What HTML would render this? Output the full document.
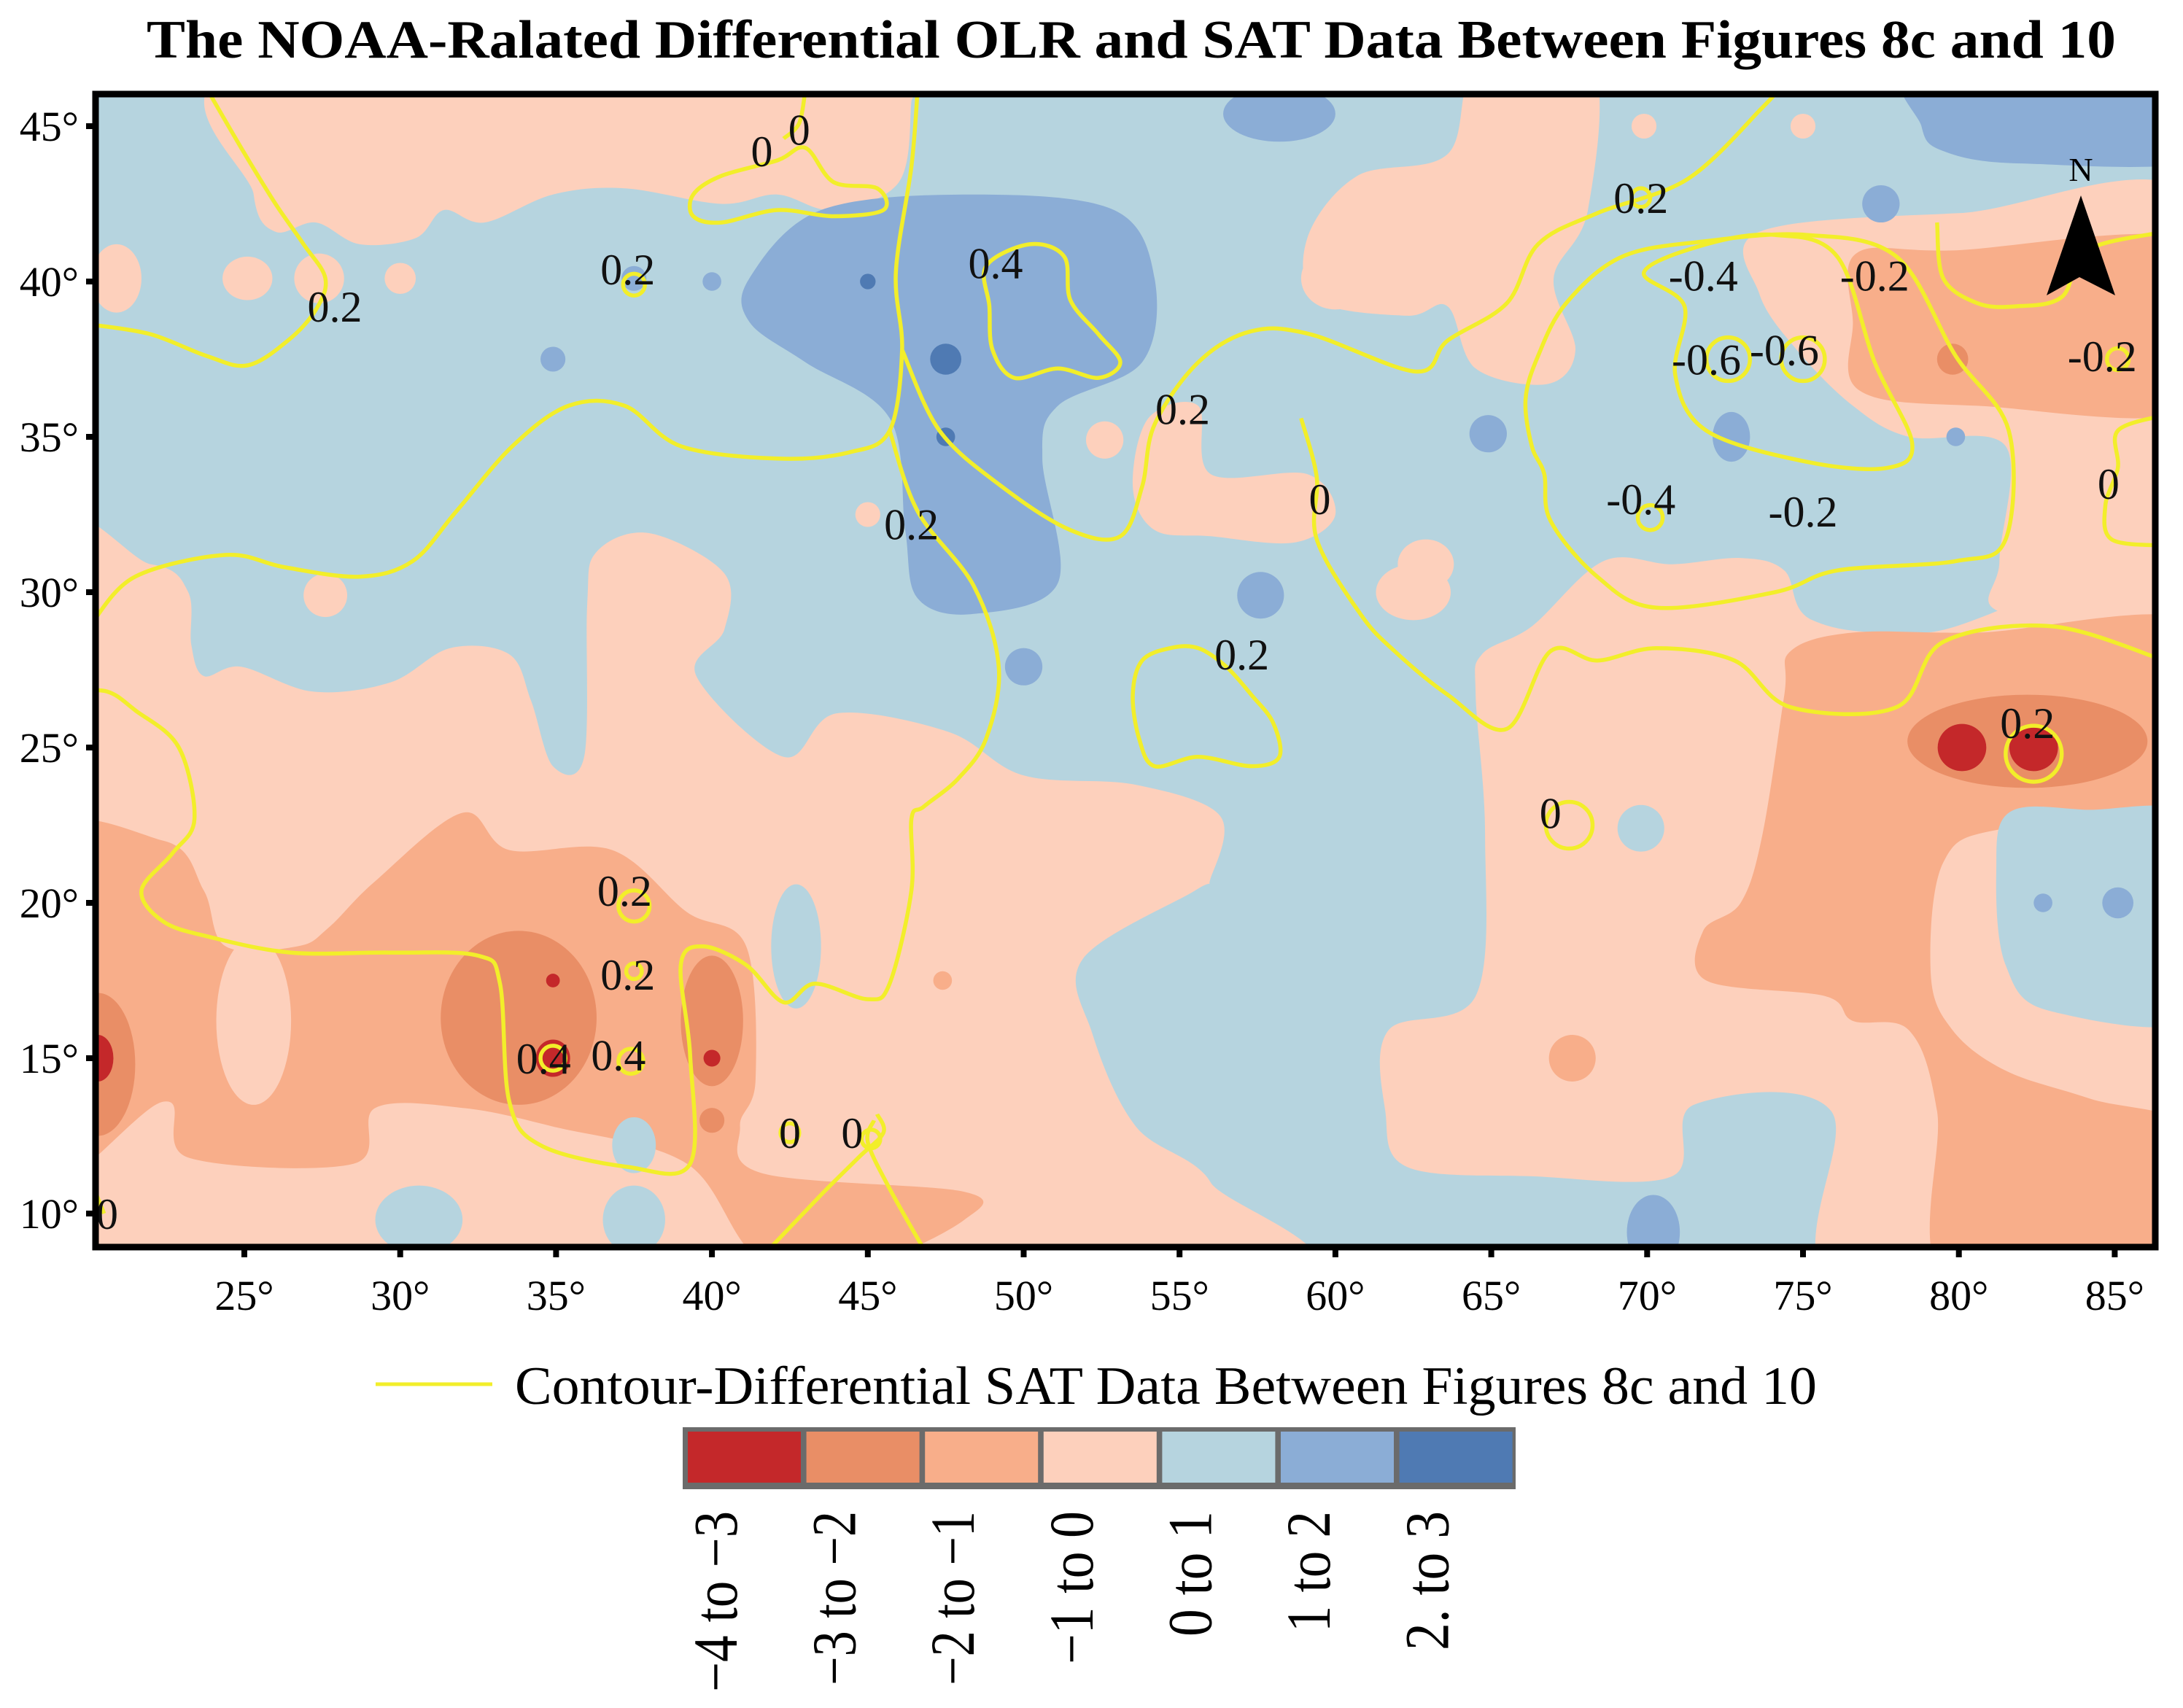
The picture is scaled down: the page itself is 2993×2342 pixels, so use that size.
<!DOCTYPE html>
<html><head><meta charset="utf-8"><title>NOAA Differential OLR and SAT</title>
<style>html,body{margin:0;padding:0;background:#fff}svg{display:block}text{font-family:"Liberation Serif",serif}</style>
</head><body>
<svg id="fig" width="2993" height="2342" viewBox="0 0 2993 2342" xmlns="http://www.w3.org/2000/svg">
<defs><clipPath id="mapclip"><rect x="131" y="129" width="2824" height="1581"/></clipPath></defs>
<text x="1551" y="79" text-anchor="middle" font-size="74" font-weight="bold" textLength="2700" lengthAdjust="spacingAndGlyphs">The NOAA-Ralated Differential OLR and SAT Data Between Figures 8c and 10</text>
<g id="map" clip-path="url(#mapclip)"></g>
<rect x="131" y="129" width="2824" height="1581" fill="none" stroke="#000" stroke-width="9"/>
<g id="axes"></g>
<g id="north">
<polygon points="2853,268 2806,405 2851,380 2900,405" fill="#000"/>
<text x="2853" y="248" text-anchor="middle" font-size="46">N</text>
</g>
<g id="legend">
<line x1="515" y1="1898" x2="675" y2="1898" stroke="#f2ee2a" stroke-width="5"/>
<text x="706" y="1925" font-size="74" textLength="1785" lengthAdjust="spacingAndGlyphs">Contour-Differential SAT Data Between Figures 8c and 10</text>
</g>
</svg>
<script>
// legend categories / colors
const levelLabels = ['\u22124 to \u22123','\u22123 to \u22122','\u22122 to \u22121','\u22121 to 0','0 to 1','1 to 2','2. to 3'];
const levelColors = ['#c4282a','#e98e66','#f8ae8a','#fdd0bc','#b6d4df','#8badd6','#4f7ab3'];
const labelTextLen = [248,239,239,210,172,166,191];
const latTicks = [45,40,35,30,25,20,15,10];
const lonTicks = [25,30,35,40,45,50,55,60,65,70,75,80,85];
// filled regions: level index, polygon in [lon,lat]
const regions = [
 {lv:3, pts:[[25.3,47],[46.4,47],[46.4,45.8],[46,43.2],[43.9,42.3],[42.1,42.8],[40.3,42.5],[37.2,43],[34.9,42.8],[32.7,41.9],[31.4,42.3],[30.5,41.4],[28.7,41.2],[27.3,41.9],[26,41.6],[25.3,42.8]]},
 {lv:3, pts:[[64.6,47],[68.2,47],[68.1,42.3],[67,40.1],[67.7,37.8],[66.8,36.7],[64.5,37.2],[63.6,39.2],[62.3,38.9],[59.4,39.4],[59.1,41.4],[60.7,43.4],[63.6,44.1]]},
 {lv:3, pts:[[73.6,41.6],[80,42.2],[88,42.3],[88,28.9],[81.5,29.3],[81.3,31],[81.5,34.7],[78.4,35],[76.6,36],[74.8,37.8],[73.6,39.6]]},
 {lv:3, pts:[[18,30.8],[22,30.9],[23.2,30],[23.3,28.3],[23.7,27.3],[24.9,27.6],[27.2,26.8],[29.7,27.1],[31.6,28.2],[33.5,28],[34.2,26.5],[34.9,24.4],[35.9,24.7],[36,29.6],[36.3,31.3],[38,31.9],[40.4,30.6],[40.4,28.8],[39.5,27.3],[42.3,24.7],[44,26.1],[47.6,25.5],[50,24.1],[53.6,23.8],[56.3,22.8],[56,20.8],[55.5,20.4],[51.9,18.2],[52.2,15.8],[53.6,12.8],[56,11],[56.7,7.5],[18,7.5]]},
 {lv:3, pts:[[64.7,28],[66.3,28.9],[68.6,31],[70.8,30.9],[73,31.1],[74.4,30.7],[75.3,29.1],[78.9,28.7],[88,29.3],[88,7.5],[76.2,7.5],[75.9,13.3],[71.5,13.5],[70.8,11.2],[66.3,11.2],[62.3,11.5],[61.6,13.3],[61.7,15.9],[64.5,17],[64.8,22.2],[64.5,26.7]]},
 {lv:3, pts:[[54,35.6],[55.6,36],[56,33.8],[59.1,33.8],[60,32.5],[58.7,31.6],[56,31.8],[54.2,32],[53.5,33.4]]},
 {lv:2, pts:[[76.7,40.9],[79.8,41],[88,41.2],[88,36],[80.6,36],[76.8,36.5],[76.6,38.7]]},
 {lv:2, pts:[[74.6,28.1],[76.6,28.7],[80.6,28.7],[88,28.9],[88,22.9],[81.5,22.4],[79.5,21.3],[79.1,17.7],[79.8,15.9],[81.5,14.6],[84.2,13.7],[88,12.4],[88,7.5],[79.8,7.5],[79.3,13.3],[78.4,15.9],[76.6,16.2],[75.7,17],[71.9,17.5],[71.8,19.1],[73,20],[73.7,22.2],[74.4,26.7]]},
 {lv:4, pts:[[81.6,22.9],[84,23],[88,22.5],[88,16.5],[83,16.5],[81.5,18],[81.2,21]]},
 {lv:2, pts:[[18,21.8],[22.4,22],[23.7,20.4],[24.4,18.6],[26.7,18.6],[27.7,19.2],[29.2,20.7],[32,22.9],[33.5,21.7],[36.8,21.7],[39.2,19.7],[41.1,18.6],[41.4,14.3],[40.9,12.8],[41.6,11.3],[48.1,10.7],[48.1,9.8],[45.2,8.5],[41.6,8.5],[39.2,11.6],[34.9,12.8],[32,13.4],[29.2,13.4],[28.5,11.6],[23.2,11.8],[22.4,13.6],[18,11]]},
 {lv:5, pts:[[41.2,40.1],[43.5,42.3],[48.4,42.8],[52.9,42.3],[54.2,40.1],[53.8,37.4],[51.1,36],[50.6,34.3],[51.1,30.3],[48.4,29.3],[46.6,29.8],[46.2,32],[45.7,35.6],[43,37.4],[41.2,38.7]]},
 {lv:5, pts:[[78.8,47],[88,47],[88,44],[82,43.8],[79.5,44.2],[78.8,45]]}
];
// spots: level, lon, lat, radius lon (deg), radius lat (deg)
const spots = [
 [3,20.9,40.1,0.8,1.1],[3,25.1,40.1,0.8,0.7],[3,27.4,40.1,0.8,0.8],[3,30,40.1,0.5,0.5],[3,25.2,44.9,0.6,0.6],
 [3,52.6,34.9,0.6,0.6],[3,27.6,29.9,0.7,0.7],[3,62.5,30,1.2,0.9],[3,62.9,30.9,0.9,0.8],[3,60,40.1,1.1,1.0],
 [3,60.3,42.3,0.5,0.5],[3,69.9,45,0.4,0.4],[3,75,45,0.4,0.4],[3,45,32.5,0.4,0.4],
 [4,42.7,18.6,0.8,2.0],[4,37.5,12.2,0.7,0.9],[4,30.6,9.8,1.4,1.1],[4,37.5,9.8,1.0,1.1],[4,69.8,22.4,0.75,0.75],
 [3,25.3,16.2,1.2,2.7],
 [1,33.8,16.3,2.5,2.8],[1,40,16.2,1.0,2.1],[1,20.3,14.8,1.2,2.3],[1,40,13,0.4,0.4],[1,82.2,25.2,3.85,1.5],[1,79.8,37.5,0.5,0.5],
 [2,67.6,15,0.75,0.75],[2,47.4,17.5,0.3,0.3],
 [0,34.9,15,0.55,0.6],[0,34.9,17.5,0.22,0.22],[0,40,15,0.27,0.27],[0,20.3,15,0.5,0.75],[0,80.1,25,0.78,0.76],[0,82.4,25,0.78,0.76],
 [5,58.2,45.4,1.8,0.9],[5,77.5,42.5,0.6,0.6],[5,64.9,35.1,0.6,0.6],[5,72.7,35,0.6,0.8],[5,79.9,35,0.3,0.3],[5,57.6,29.9,0.75,0.75],
 [5,50,27.6,0.6,0.6],[5,34.9,37.5,0.4,0.4],[5,40,40,0.3,0.3],[5,37.5,40.1,0.4,0.4],[5,82.7,20,0.3,0.3],[5,85.1,20,0.5,0.5],[5,70.2,9.4,0.85,1.2],
 [6,47.5,37.5,0.5,0.5],[6,47.5,35,0.3,0.3],[6,45,40,0.25,0.25]
];
// yellow SAT contours [closed?, points]
const contours = [
 [false,[[20.2,38.6],[22,38.3],[23.8,37.6],[25.1,37.3],[26.4,38.1],[27.3,39.1],[27.6,40.1],[26.9,41.2],[26,42.5],[24.9,44.3],[23.8,46.2]]],
 [false,[[20.1,29],[21.5,30.5],[24.4,31.2],[26.3,30.8],[28.7,30.5],[30.4,31],[31.8,32.6],[33.6,34.7],[35.4,36],[37.2,36],[39,34.7],[42.1,34.3],[44.4,34.5],[45.7,35.2],[46.1,37.8],[45.9,40.3],[46.4,43.7],[46.6,46.2]]],
 [false,[[45.7,35.2],[46.6,32.6],[48.4,30.2],[49.2,27.6],[48.8,25.3],[47.9,24],[46.8,23.1],[46.4,22.7],[46.4,20.4],[45.7,17.4],[45,16.9],[43.3,17.4],[42.3,16.8],[41.1,18],[39.7,18.6],[39,18],[39.3,15.1],[39.3,11.6],[37.3,11.5],[34.5,12.2],[33.5,13.6],[33.2,17.4],[32.5,18.3],[29.7,18.4],[26.5,18.4],[23.9,18.9],[22.4,19.4],[21.7,20.4],[22.7,21.6],[23.4,22.7],[22.9,25],[21.5,26.2],[20.6,26.8],[19.5,26.8]]],
 [false,[[46.1,37.8],[47.3,35.2],[49.3,33.4],[51.5,32],[53.1,31.8],[53.8,33.4],[54.2,35.4],[55.6,37.4],[57.3,38.4],[59.2,38.3],[62.6,37.1],[63.6,38.1],[65.5,39.3],[66.5,41.2],[68.4,42.2],[71.3,43.3],[73.7,45.6],[74.4,46.4]]],
 [false,[[58.9,35.6],[59.4,33.7],[59.4,31.7],[60.8,29.3],[61.9,28.1],[63.6,26.7],[65.5,25.6],[66.9,28.1],[68.4,27.8],[70.3,28.2],[72.8,27.8],[74.6,26.3],[78,26.3],[79.5,28.4],[83,28.9],[86.6,27.8]]],
 [true,[[66.7,33.8],[66.9,32.3],[68.4,30.5],[70.3,29.5],[74.1,30],[76.1,30.7],[79.9,31],[81.5,31.7],[81.6,35.2],[79.9,37.6],[78,40.8],[75.1,41.5],[71.9,41.3],[69.2,40.8],[67.4,39.3],[66.5,37.6],[66.1,36.2],[66.3,34.7]]],
 [true,[[69.9,40.3],[71.9,41.2],[74.1,41.5],[76.1,40.8],[77.3,37.4],[78.5,34.8],[77.7,34],[75.1,34.2],[71.9,35.2],[70.9,37],[71.2,39.2]]],
 [false,[[79.3,41.9],[79.5,40.1],[80.6,39.3],[81.8,39.2],[83.3,39.5],[84.1,41],[86.6,41.6]]],
 [false,[[86.6,35.7],[85.1,35.2],[85.1,34],[84.7,32.8],[84.9,31.7],[86.6,31.5]]],
 [true,[[48.8,40.5],[50.2,41.2],[51.3,40.8],[51.5,39.4],[52.4,38.3],[53.1,37.4],[52.4,36.9],[51.1,37.2],[49.7,36.9],[49,37.8],[48.9,39.2]]],
 [true,[[39.4,42.8],[40.3,43.4],[42.1,43.9],[43,44.3],[43.9,43.2],[45.3,43],[45.5,42.3],[43.9,42.1],[42.1,42.3],[40.3,41.9],[39.4,42.1]]],
 [false,[[42.3,44.6],[42.8,45.1],[43,46.2]]],
 [true,[[53.8,27.8],[54.7,28.2],[55.6,28.2],[56.5,27.6],[57.3,26.7],[58,25.8],[58.2,24.7],[57.3,24.4],[55.6,24.7],[54.2,24.4],[53.7,25.3],[53.5,26.7]]],
 [false,[[41.5,8.5],[43.5,10.6],[44.7,11.8],[45.5,12.6],[45.3,13.2]]],
 [false,[[47,8.5],[45.7,10.8],[45,12.3],[45.2,13]]],
 [false,[[20.1,11],[20.5,10]]]
];
// small contour circles: lon, lat, radius (deg)
const rings = [[37.5,39.9,0.35],[37.5,19.9,0.5],[37.5,17.8,0.25],[34.9,15,0.4],[37.4,14.9,0.4],[67.5,22.5,0.75],[82.4,24.8,0.9],[70.1,32.4,0.4],[72.6,37.5,0.7],[75,37.5,0.7],[85.1,37.5,0.35],[42.5,12.6,0.3],[45.1,12.4,0.3],[69.8,42.7,0.3]];
// contour labels
const labelText = ['0','0','0.2','0.2','0.4','0.2','-0.4','-0.2','-0.6','-0.6','-0.2','0.2','0','0.2','-0.4','-0.2','0','0.2','0.2','0','0.2','0.2','0.4','0.4','0','0','0'];
const labelLon = [41.6,42.8,37.3,27.9,49.1,69.8,71.8,77.3,71.9,74.4,84.6,55.1,59.5,46.4,69.8,75,84.8,57,82.2,66.9,37.2,37.3,34.6,37,42.5,44.5,20.6];
const labelLat = [44.2,44.9,40.4,39.2,40.6,42.7,40.2,40.2,37.5,37.8,37.6,35.9,33,32.2,33,32.6,33.5,28,25.8,22.9,20.4,17.7,15,15.1,12.6,12.6,10];

const NS='http://www.w3.org/2000/svg';
const X = lon => 335 + (lon-25)*42.74;
const Y = lat => 173 + (45-lat)*42.6;
function el(tag, attrs, parent){const e=document.createElementNS(NS,tag);for(const k in attrs)e.setAttribute(k,attrs[k]);parent.appendChild(e);return e;}
function smooth(pts, closed){
  const p=pts.map(q=>[X(q[0]),Y(q[1])]);const n=p.length;let d='M'+p[0][0].toFixed(1)+','+p[0][1].toFixed(1);
  const get=i=>closed?p[(i+n)%n]:p[Math.max(0,Math.min(n-1,i))];
  const last=closed?n:n-1;
  for(let i=0;i<last;i++){const p0=get(i-1),p1=get(i),p2=get(i+1),p3=get(i+2);
    const c1=[p1[0]+(p2[0]-p0[0])/6,p1[1]+(p2[1]-p0[1])/6],c2=[p2[0]-(p3[0]-p1[0])/6,p2[1]-(p3[1]-p1[1])/6];
    d+=' C'+c1[0].toFixed(1)+','+c1[1].toFixed(1)+' '+c2[0].toFixed(1)+','+c2[1].toFixed(1)+' '+p2[0].toFixed(1)+','+p2[1].toFixed(1);}
  return d+(closed?'Z':'');
}
const map=document.getElementById('map');
const bg=el('rect',{x:131,y:129,width:2824,height:1581,fill:levelColors[4]},map);


regions.forEach((r,i)=>{const e=el('path',{d:smooth(r.pts,true),fill:levelColors[r.lv]},map);
  
  });
spots.forEach((s,i)=>{const e=el('ellipse',{cx:X(s[1]),cy:Y(s[2]),rx:s[3]*42.74,ry:s[4]*42.6,fill:levelColors[s[0]]},map);
  
  });
contours.forEach((c,i)=>{const e=el('path',{d:smooth(c[1],c[0]),fill:'none',stroke:'#f2ee2a','stroke-width':5.5},map);
  
  });
rings.forEach((r,i)=>{const e=el('circle',{cx:X(r[0]),cy:Y(r[1]),r:r[2]*42.7,fill:'none',stroke:'#f2ee2a','stroke-width':5.5},map);
  
  });
labelText.forEach((t,i)=>{const e=el('text',{x:X(labelLon[i]),y:Y(labelLat[i])+21,'text-anchor':'middle','font-size':60,fill:'#111'},map);e.textContent=t;
  
  });
const axes=document.getElementById('axes');
latTicks.forEach(v=>{const y=Y(v);
  const t=el('line',{x1:118,y1:y,x2:131,y2:y,stroke:'#000','stroke-width':8},axes);
  
  
  const l=el('text',{x:108,y:y+20,'text-anchor':'end','font-size':58},axes);l.textContent=v+'\u00b0';
  
  });
lonTicks.forEach(v=>{const x=X(v);
  const t=el('line',{x1:x,y1:1710,x2:x,y2:1724,stroke:'#000','stroke-width':8},axes);
  
  
  const l=el('text',{x:x,y:1796,'text-anchor':'middle','font-size':58},axes);l.textContent=v+'\u00b0';
  
  });
const legend=document.getElementById('legend');
const lb=el('rect',{x:936,y:1957,width:1142,height:85,fill:'#6b6b6b'},legend);


levelLabels.forEach((t,i)=>{const x0=940+i*162.6;
  const b=el('rect',{x:x0+3,y:1963,width:155,height:70,fill:levelColors[i]},legend);
  
  
  const l=el('text',{transform:'translate('+(x0+70)+',2072) rotate(-90)','text-anchor':'end','font-size':86,textLength:labelTextLen[i],lengthAdjust:'spacingAndGlyphs'},legend);l.textContent=t;
  
  
});
</script>
</body></html>
